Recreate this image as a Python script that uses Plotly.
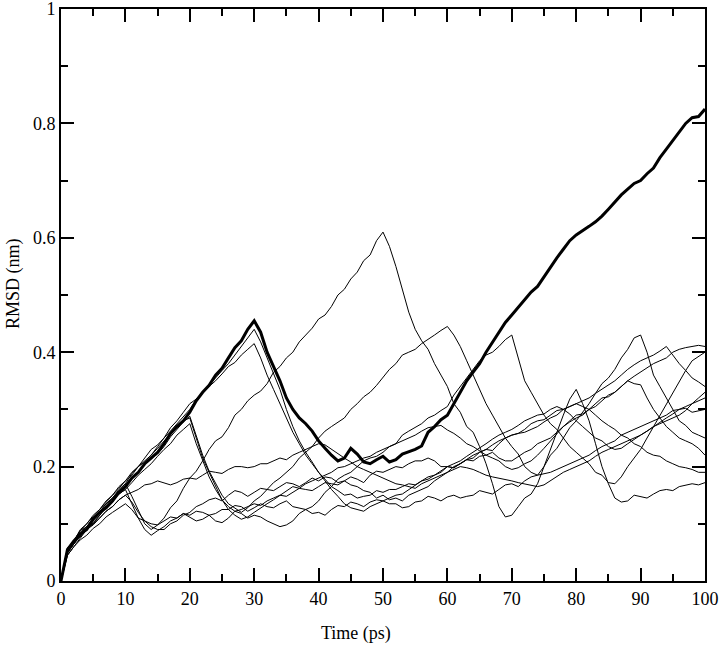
import plotly.graph_objects as go

time_ps = list(range(0, 101))

rmsd_main = [0, 0.055, 0.07, 0.082, 0.09, 0.108, 0.12, 0.128, 0.14, 0.155,
             0.165, 0.18, 0.19, 0.205, 0.215, 0.225, 0.24, 0.258, 0.27, 0.28,
             0.295, 0.315, 0.33, 0.342, 0.36, 0.372, 0.39, 0.408, 0.42, 0.44,
             0.455, 0.435, 0.40, 0.375, 0.35, 0.32, 0.30, 0.285, 0.275, 0.262,
             0.245, 0.232, 0.22, 0.21, 0.215, 0.232, 0.222, 0.208, 0.205, 0.212,
             0.218, 0.208, 0.212, 0.222, 0.226, 0.23, 0.236, 0.26, 0.27, 0.282,
             0.29, 0.31, 0.33, 0.35, 0.365, 0.38, 0.40, 0.418, 0.435, 0.452,
             0.465, 0.478, 0.49, 0.505, 0.515, 0.532, 0.55, 0.565, 0.58, 0.595,
             0.605, 0.612, 0.62, 0.628, 0.638, 0.65, 0.662, 0.675, 0.685, 0.695,
             0.70, 0.712, 0.722, 0.74, 0.755, 0.77, 0.785, 0.80, 0.81, 0.812,
             0.825]

rmsd_1 = [0, 0.05, 0.065, 0.082, 0.092, 0.1, 0.115, 0.132, 0.145, 0.158,
          0.17, 0.148, 0.125, 0.1, 0.09, 0.098, 0.11, 0.128, 0.14, 0.162,
          0.18, 0.192, 0.21, 0.23, 0.245, 0.252, 0.268, 0.29, 0.30, 0.315,
          0.325, 0.332, 0.345, 0.365, 0.375, 0.39, 0.40, 0.418, 0.43, 0.442,
          0.458, 0.465, 0.48, 0.50, 0.51, 0.528, 0.54, 0.56, 0.57, 0.595,
          0.61, 0.585, 0.55, 0.51, 0.47, 0.44, 0.42, 0.405, 0.38, 0.36,
          0.34, 0.31, 0.295, 0.27, 0.26, 0.235, 0.205, 0.17, 0.13, 0.112,
          0.115, 0.13, 0.145, 0.152, 0.17, 0.2, 0.23, 0.262, 0.29, 0.318,
          0.335, 0.31, 0.28, 0.24, 0.20, 0.17, 0.145, 0.138, 0.14, 0.15,
          0.147, 0.145, 0.152, 0.158, 0.16, 0.158, 0.165, 0.168, 0.17, 0.168,
          0.172]

rmsd_2 = [0, 0.055, 0.07, 0.088, 0.095, 0.11, 0.12, 0.13, 0.14, 0.152,
          0.16, 0.135, 0.11, 0.09, 0.08, 0.088, 0.095, 0.105, 0.11, 0.118,
          0.112, 0.105, 0.108, 0.115, 0.105, 0.102, 0.11, 0.122, 0.118, 0.11,
          0.115, 0.112, 0.105, 0.1, 0.095, 0.098, 0.105, 0.118, 0.125, 0.13,
          0.14, 0.155, 0.165, 0.178, 0.185, 0.19, 0.2, 0.21, 0.215, 0.218,
          0.225, 0.235, 0.24, 0.255, 0.262, 0.268, 0.275, 0.285, 0.29, 0.298,
          0.305, 0.325, 0.34, 0.355, 0.37, 0.385, 0.395, 0.4, 0.41, 0.422,
          0.43, 0.39, 0.35, 0.33, 0.31, 0.29, 0.275, 0.265, 0.25, 0.235,
          0.225, 0.215, 0.205, 0.19, 0.185, 0.172, 0.17, 0.182, 0.2, 0.215,
          0.23, 0.25, 0.27, 0.29, 0.31, 0.33, 0.35, 0.368, 0.385, 0.392,
          0.40]

rmsd_3 = [0, 0.048, 0.065, 0.08, 0.09, 0.098, 0.11, 0.122, 0.13, 0.142,
          0.15, 0.138, 0.12, 0.105, 0.095, 0.09, 0.09, 0.1, 0.105, 0.115,
          0.12, 0.13, 0.135, 0.142, 0.145, 0.14, 0.15, 0.158, 0.155, 0.148,
          0.155, 0.162, 0.16, 0.158, 0.165, 0.172, 0.17, 0.165, 0.172, 0.18,
          0.175, 0.182, 0.18, 0.172, 0.175, 0.168, 0.165, 0.158, 0.155, 0.145,
          0.15, 0.142, 0.145, 0.14, 0.15, 0.155, 0.16, 0.165, 0.175, 0.182,
          0.19, 0.2, 0.205, 0.212, 0.215, 0.225, 0.23, 0.228, 0.24, 0.25,
          0.255, 0.258, 0.265, 0.275, 0.28, 0.282, 0.29, 0.298, 0.30, 0.305,
          0.31, 0.305, 0.30, 0.29, 0.28, 0.272, 0.265, 0.255, 0.25, 0.24,
          0.235, 0.225, 0.22, 0.218, 0.21, 0.205, 0.20, 0.198, 0.195, 0.19,
          0.19]

rmsd_4 = [0, 0.045, 0.06, 0.072, 0.08, 0.092, 0.1, 0.112, 0.12, 0.128,
          0.135, 0.125, 0.11, 0.105, 0.1, 0.098, 0.105, 0.112, 0.11, 0.118,
          0.115, 0.122, 0.12, 0.115, 0.118, 0.125, 0.125, 0.132, 0.13, 0.122,
          0.128, 0.135, 0.13, 0.128, 0.135, 0.14, 0.13, 0.128, 0.125, 0.118,
          0.12, 0.115, 0.125, 0.132, 0.13, 0.138, 0.135, 0.13, 0.138, 0.142,
          0.14, 0.135, 0.135, 0.128, 0.13, 0.138, 0.14, 0.148, 0.145, 0.14,
          0.147, 0.15, 0.145, 0.148, 0.15, 0.158, 0.155, 0.152, 0.16, 0.168,
          0.17, 0.165, 0.175, 0.182, 0.185, 0.188, 0.19, 0.195, 0.2, 0.205,
          0.21, 0.215, 0.22, 0.228, 0.235, 0.24, 0.245, 0.255, 0.26, 0.265,
          0.27, 0.275, 0.28, 0.285, 0.29, 0.298, 0.30, 0.302, 0.295, 0.298,
          0.30]

rmsd_5 = [0, 0.05, 0.065, 0.082, 0.095, 0.108, 0.12, 0.135, 0.145, 0.155,
          0.165, 0.178, 0.19, 0.205, 0.215, 0.222, 0.235, 0.252, 0.265, 0.278,
          0.288, 0.255, 0.22, 0.192, 0.17, 0.15, 0.135, 0.128, 0.12, 0.128,
          0.14, 0.148, 0.16, 0.172, 0.18, 0.19, 0.2, 0.215, 0.225, 0.235,
          0.25, 0.262, 0.27, 0.278, 0.285, 0.3, 0.31, 0.322, 0.33, 0.342,
          0.355, 0.37, 0.38, 0.395, 0.40, 0.405, 0.415, 0.422, 0.43, 0.438,
          0.445, 0.43, 0.41, 0.385, 0.36, 0.335, 0.31, 0.29, 0.27, 0.25,
          0.235, 0.222, 0.2, 0.19, 0.185, 0.2, 0.22, 0.232, 0.25, 0.268,
          0.28, 0.295, 0.31, 0.328, 0.345, 0.355, 0.37, 0.39, 0.405, 0.425,
          0.43, 0.4, 0.36, 0.34, 0.32, 0.298, 0.28, 0.272, 0.26, 0.255,
          0.25]

rmsd_6 = [0, 0.055, 0.07, 0.088, 0.1, 0.112, 0.125, 0.14, 0.15, 0.165,
          0.175, 0.19, 0.2, 0.21, 0.22, 0.232, 0.245, 0.258, 0.27, 0.28,
          0.285, 0.25, 0.215, 0.19, 0.165, 0.142, 0.125, 0.115, 0.108, 0.112,
          0.12, 0.128, 0.135, 0.142, 0.15, 0.158, 0.165, 0.162, 0.17, 0.175,
          0.18, 0.185, 0.19, 0.198, 0.2, 0.205, 0.21, 0.215, 0.218, 0.225,
          0.23, 0.235, 0.24, 0.245, 0.25, 0.255, 0.262, 0.268, 0.27, 0.272,
          0.264, 0.258, 0.25, 0.24, 0.235, 0.228, 0.22, 0.215, 0.21, 0.2,
          0.195, 0.198, 0.205, 0.21, 0.22, 0.232, 0.245, 0.258, 0.27, 0.278,
          0.285, 0.29, 0.3, 0.31, 0.32, 0.322, 0.33, 0.34, 0.35, 0.345,
          0.343, 0.32, 0.3, 0.285, 0.27, 0.26, 0.25, 0.245, 0.24, 0.232,
          0.22]

rmsd_7 = [0, 0.045, 0.06, 0.075, 0.09, 0.102, 0.115, 0.128, 0.14, 0.152,
          0.16, 0.172, 0.185, 0.195, 0.205, 0.218, 0.23, 0.24, 0.255, 0.265,
          0.275, 0.24, 0.21, 0.182, 0.16, 0.142, 0.13, 0.122, 0.125, 0.13,
          0.135, 0.132, 0.14, 0.145, 0.15, 0.148, 0.155, 0.162, 0.16, 0.158,
          0.165, 0.172, 0.17, 0.168, 0.175, 0.182, 0.178, 0.172, 0.185, 0.192,
          0.19, 0.195, 0.2, 0.198, 0.205, 0.21, 0.21, 0.215, 0.21, 0.2,
          0.2, 0.198, 0.205, 0.212, 0.21, 0.218, 0.22, 0.225, 0.215, 0.21,
          0.21, 0.218, 0.225, 0.23, 0.24, 0.245, 0.25, 0.26, 0.27, 0.28,
          0.29, 0.292, 0.3, 0.305, 0.315, 0.325, 0.33, 0.34, 0.35, 0.358,
          0.365, 0.372, 0.38, 0.385, 0.39, 0.4, 0.405, 0.408, 0.41, 0.412,
          0.41]

rmsd_8 = [0, 0.055, 0.07, 0.085, 0.095, 0.11, 0.12, 0.135, 0.145, 0.16,
          0.17, 0.188, 0.2, 0.215, 0.23, 0.238, 0.25, 0.268, 0.28, 0.295,
          0.31, 0.318, 0.33, 0.34, 0.35, 0.362, 0.375, 0.382, 0.395, 0.405,
          0.415, 0.39, 0.36, 0.335, 0.31, 0.285, 0.26, 0.24, 0.22, 0.205,
          0.19, 0.178, 0.165, 0.158, 0.15, 0.152, 0.145, 0.148, 0.15, 0.158,
          0.155, 0.16, 0.16, 0.165, 0.17, 0.168, 0.175, 0.182, 0.185, 0.192,
          0.2, 0.205, 0.21, 0.218, 0.225, 0.232, 0.24, 0.248, 0.255, 0.26,
          0.265, 0.272, 0.28, 0.285, 0.29, 0.292, 0.3, 0.305, 0.3, 0.292,
          0.28, 0.27, 0.26, 0.25, 0.245, 0.235, 0.23, 0.232, 0.24, 0.248,
          0.255, 0.262, 0.27, 0.278, 0.285, 0.292, 0.3, 0.305, 0.31, 0.315,
          0.32]

rmsd_9 = [0, 0.058, 0.07, 0.09, 0.1, 0.115, 0.125, 0.138, 0.15, 0.162,
          0.175, 0.185, 0.2, 0.208, 0.22, 0.235, 0.25, 0.262, 0.275, 0.288,
          0.3, 0.318, 0.33, 0.342, 0.355, 0.368, 0.38, 0.395, 0.41, 0.425,
          0.44, 0.418, 0.39, 0.362, 0.335, 0.3, 0.27, 0.245, 0.225, 0.208,
          0.19, 0.175, 0.16, 0.148, 0.135, 0.128, 0.125, 0.122, 0.13, 0.135,
          0.14, 0.145, 0.15, 0.152, 0.16, 0.168, 0.175, 0.178, 0.185, 0.19,
          0.2, 0.198, 0.205, 0.212, 0.22, 0.225, 0.23, 0.238, 0.245, 0.25,
          0.255, 0.258, 0.26, 0.265, 0.27, 0.278, 0.285, 0.29, 0.3, 0.305,
          0.31, 0.315, 0.32, 0.328, 0.335, 0.342, 0.35, 0.36, 0.37, 0.378,
          0.385, 0.39, 0.395, 0.402, 0.41, 0.395, 0.38, 0.368, 0.355, 0.348,
          0.34]

rmsd_10 = [0, 0.05, 0.065, 0.078, 0.09, 0.1, 0.11, 0.122, 0.13, 0.142,
           0.15, 0.155, 0.16, 0.168, 0.17, 0.175, 0.172, 0.168, 0.172, 0.178,
           0.18, 0.178, 0.185, 0.192, 0.19, 0.188, 0.195, 0.2, 0.2, 0.198,
           0.2, 0.205, 0.205, 0.21, 0.215, 0.212, 0.22, 0.225, 0.23, 0.235,
           0.24, 0.238, 0.23, 0.222, 0.215, 0.208, 0.2, 0.195, 0.19, 0.185,
           0.18, 0.175, 0.17, 0.168, 0.165, 0.162, 0.17, 0.175, 0.18, 0.185,
           0.19, 0.195, 0.2, 0.198, 0.195, 0.19, 0.185, 0.182, 0.18, 0.178,
           0.175, 0.172, 0.17, 0.168, 0.165, 0.168, 0.175, 0.182, 0.19, 0.195,
           0.2, 0.205, 0.21, 0.218, 0.225, 0.23, 0.235, 0.24, 0.245, 0.25,
           0.255, 0.262, 0.27, 0.275, 0.28, 0.285, 0.29, 0.298, 0.31, 0.32,
           0.33]

thin_series = [rmsd_1, rmsd_2, rmsd_3, rmsd_4, rmsd_5,
               rmsd_6, rmsd_7, rmsd_8, rmsd_9, rmsd_10]

for s in thin_series + [rmsd_main]:
    assert len(s) == len(time_ps), len(s)

FONT = "Liberation Serif"

fig = go.Figure()
for s in thin_series:
    fig.add_trace(go.Scatter(x=time_ps, y=s, mode="lines",
                             line=dict(color="black", width=1),
                             hoverinfo="skip"))
fig.add_trace(go.Scatter(x=time_ps, y=rmsd_main, mode="lines",
                         line=dict(color="black", width=3),
                         hoverinfo="skip"))

axis_common = dict(
    showline=True, linewidth=2, linecolor="black", mirror="ticks",
    ticks="inside", ticklen=13, tickwidth=1.5, tickcolor="black",
    showgrid=False, zeroline=False, automargin=False,
    ticklabeloverflow="allow",
    tickfont=dict(family=FONT, size=18, color="black"),
)

fig.update_layout(
    width=720, height=658,
    margin=dict(l=61, r=15, t=9, b=77),
    plot_bgcolor="white", paper_bgcolor="white",
    showlegend=False,
    font=dict(family=FONT, color="black"),
    xaxis=dict(range=[0, 100], dtick=10, tick0=0,
               minor=dict(ticks="inside", ticklen=7, dtick=5, tickcolor="black",
                          tickwidth=1.5, showgrid=False),
               **axis_common),
    yaxis=dict(range=[0, 1], dtick=0.2, tick0=0,
               minor=dict(ticks="inside", ticklen=7, dtick=0.1, tickcolor="black",
                          tickwidth=1.5, showgrid=False),
               **axis_common),
    annotations=[
        dict(text="Time (ps)", xref="paper", yref="paper",
             x=0.458, y=-0.091, xanchor="center", yanchor="middle",
             showarrow=False, font=dict(family=FONT, size=18, color="black")),
        dict(text="RMSD (nm)", xref="paper", yref="paper",
             x=-0.073, y=0.521, xanchor="center", yanchor="middle",
             textangle=-90, showarrow=False,
             font=dict(family=FONT, size=18, color="black")),
    ],
)

fig.write_html("out.html",
               config={"displayModeBar": False},
               post_script="document.body.style.margin='0';"
                           "document.body.style.padding='0';")
